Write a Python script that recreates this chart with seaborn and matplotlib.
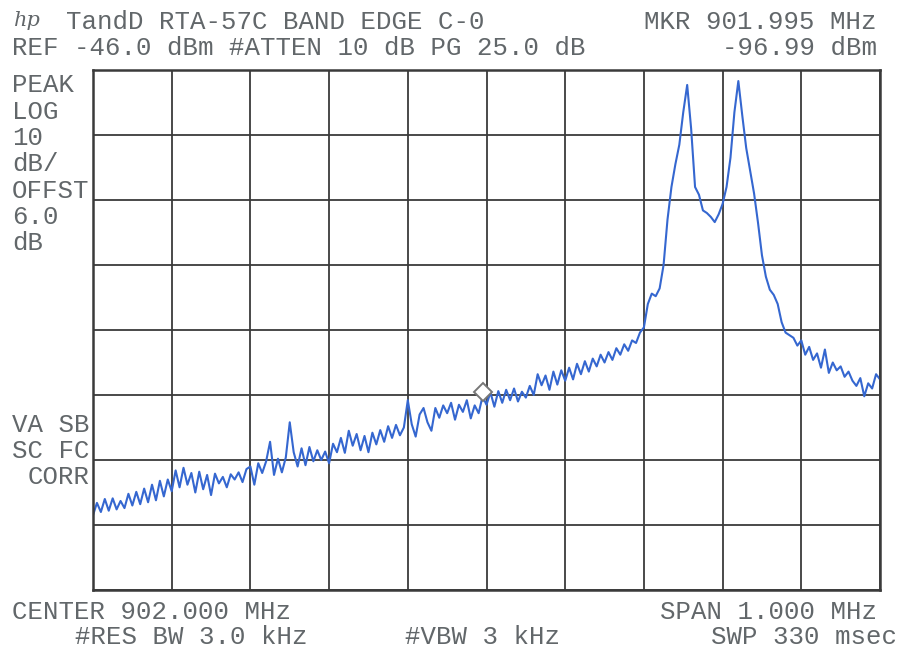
import numpy as np
import pandas as pd
import matplotlib
matplotlib.use("Agg")
import matplotlib.pyplot as plt
import seaborn as sns

# Instrument settings
center_mhz = 902.000
span_mhz = 1.000
ref_dbm = -46.0
db_per_div = 10
n_points = 201

marker_mhz = 901.995
marker_dbm = -96.99

# Trace readings (dBm), one per sweep point, left to right
trace_1 = [-114.5, -112.6, -114.0, -112.0, -113.8, -111.9, -113.6, -112.3, -113.4, -111.2,
           -113.0, -110.9, -112.8, -110.4, -112.5, -109.8, -112.2, -109.2, -111.6, -109.0,
           -110.8]
trace_2 = [-107.6, -110.2, -107.2, -109.8, -108.0, -111.0, -107.8, -110.5, -108.3, -111.4,
           -108.1, -109.6, -108.6, -110.2, -108.2, -109.0, -107.9, -109.4, -107.4, -107.0]
trace_3 = [-109.8, -106.5, -108.0, -106.2, -103.2, -108.3, -105.8, -107.9, -105.6, -100.2,
           -104.8, -107.0, -104.2, -106.8, -104.0, -106.2, -104.5, -106.0, -104.7, -106.5]
trace_4 = [-103.5, -104.8, -102.6, -104.9, -101.5, -103.8, -102.0, -104.5, -102.3, -104.8,
           -101.8, -103.6, -101.4, -103.2, -100.8, -102.6, -100.6, -102.2, -101.0, -96.8]
trace_5 = [-100.5, -102.4, -99.0, -98.0, -100.2, -101.5, -98.0, -99.5, -97.6, -98.8,
           -97.2, -99.8, -97.5, -98.6, -96.8, -99.6, -97.6, -98.8, -96.2, -97.5]
trace_6 = [-95.6, -97.8, -95.4, -97.2, -95.2, -96.8, -95.0, -97.0, -95.5, -96.4,
           -94.6, -96.0, -92.8, -94.5, -93.0, -95.2, -92.4, -94.4, -92.2, -93.8]
trace_7 = [-91.8, -93.6, -91.2, -92.8, -90.8, -92.4, -90.4, -91.6, -89.8, -91.0,
           -89.4, -90.6, -88.8, -89.8, -88.2, -89.2, -87.6, -88.0, -86.4, -85.6]
trace_8 = [-82.0, -80.4, -80.8, -79.6, -76.0, -69.0, -64.0, -60.5, -57.5, -52.5,
           -48.3, -55.0, -64.0, -65.2, -67.6, -68.0, -68.6, -69.4, -68.2, -66.6]
trace_9 = [-64.0, -59.5, -52.5, -47.7, -53.0, -58.0, -61.5, -65.0, -69.5, -74.5,
           -77.8, -79.8, -80.6, -82.0, -84.8, -86.4, -86.8, -87.2, -88.4, -87.6]
trace_10 = [-89.8, -88.6, -90.6, -89.6, -91.8, -89.0, -92.6, -91.0, -92.2, -91.6,
            -93.2, -92.4, -93.8, -94.6, -93.4, -96.2, -94.2, -95.0, -92.8, -93.6]

level = (trace_1 + trace_2 + trace_3 + trace_4 + trace_5 +
         trace_6 + trace_7 + trace_8 + trace_9 + trace_10)
freq = np.linspace(center_mhz - span_mhz / 2, center_mhz + span_mhz / 2, n_points)
df = pd.DataFrame({"freq": freq[:len(level)], "level": level})

# level of the trace where the marker diamond sits on screen
marker_trace = df.loc[(df["freq"] - marker_mhz).abs().idxmin(), "level"]

text_color = "#62676a"
grid_color = "#3a3a3a"
trace_color = "#3567d0"

sns.set_style("white")
plt.rcParams["font.family"] = ["Liberation Mono", "DejaVu Sans Mono"]

fig = plt.figure(figsize=(9.03, 6.55), dpi=100)
ax = fig.add_axes([93 / 903, 1 - 590 / 655, 787 / 903, 520 / 655])

sns.lineplot(data=df, x="freq", y="level", color=trace_color, lw=1.5, ax=ax)
ax.plot([marker_mhz], [marker_trace + 0.6], marker="D", ms=9.5, mfc="white", mec="#777777",
        mew=1.4, zorder=5)

x0 = center_mhz - span_mhz / 2
ax.set_xlim(x0, x0 + span_mhz)
ax.set_ylim(ref_dbm - 8 * db_per_div, ref_dbm)
ax.set_xticks(np.arange(11) * span_mhz / 10 + x0)
ax.set_yticks(ref_dbm - np.arange(9) * db_per_div)
ax.set_xticklabels([])
ax.set_yticklabels([])
ax.set_xlabel("")
ax.set_ylabel("")
ax.tick_params(length=0)
ax.grid(True, color=grid_color, lw=1.3)
for s in ax.spines.values():
    s.set_color(grid_color)
    s.set_linewidth(1.8)

fs = 18.5
def put(x, y, s, ha="left"):
    fig.text(x / 903, 1 - y / 655, s, ha=ha, va="center", fontsize=fs, color=text_color)

# header
fig.text(14 / 903, 1 - 21 / 655, "hp", fontsize=15, style="italic", family="DejaVu Serif",
         color=text_color, va="center")
put(66, 22, "TandD RTA-57C BAND EDGE C-0")
put(877, 22, "MKR 901.995 MHz", ha="right")
put(12, 48, "REF -46.0 dBm #ATTEN 10 dB PG 25.0 dB")
put(877, 48, "-96.99 dBm", ha="right")

# left annotations
for y, s in zip([85, 112, 138, 164, 191, 217, 243],
                ["PEAK", "LOG", "10", "dB/", "OFFST", "6.0", "dB"]):
    put(12, y, s)
put(12, 425, "VA SB")
put(12, 451, "SC FC")
put(90, 477, "CORR", ha="right")

# footer
put(12, 612, "CENTER 902.000 MHz")
put(877, 612, "SPAN 1.000 MHz", ha="right")
put(75, 637, "#RES BW 3.0 kHz")
put(405, 637, "#VBW 3 kHz")
put(897, 637, "SWP 330 msec", ha="right")

fig.savefig("out.png", dpi=100, facecolor="white")
